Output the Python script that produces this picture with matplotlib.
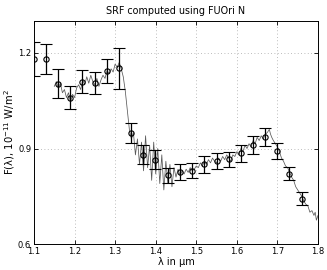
import matplotlib
matplotlib.use("Agg")
import matplotlib.pyplot as plt

# binned SRF points
bin_wl = [1.100, 1.129, 1.160, 1.189, 1.219, 1.250, 1.279, 1.309, 1.339, 1.369,
          1.399, 1.430, 1.460, 1.489, 1.519, 1.550, 1.580, 1.609, 1.639, 1.669,
          1.700, 1.729, 1.760]
bin_flux = [1.181, 1.181, 1.104, 1.060, 1.110, 1.105, 1.143, 1.152, 0.949, 0.881,
            0.865, 0.816, 0.827, 0.830, 0.850, 0.861, 0.866, 0.885, 0.911, 0.937,
            0.893, 0.821, 0.743]
bin_err = [0.053, 0.046, 0.044, 0.037, 0.036, 0.035, 0.038, 0.065, 0.032, 0.030,
           0.029, 0.023, 0.025, 0.023, 0.027, 0.026, 0.024, 0.027, 0.027, 0.028,
           0.025, 0.021, 0.020]

# spectrum trace
spec_wl = [1.150, 1.155, 1.160, 1.165, 1.170, 1.175, 1.180, 1.185, 1.190, 1.195,
           1.200, 1.205, 1.210, 1.215, 1.220, 1.225, 1.230, 1.235, 1.240, 1.245,
           1.250, 1.255, 1.260, 1.265, 1.270, 1.275, 1.280, 1.285, 1.290, 1.295,
           1.300, 1.305, 1.310, 1.315, 1.320, 1.325, 1.330, 1.335, 1.340, 1.345,
           1.350, 1.355, 1.360, 1.365, 1.370, 1.375, 1.380, 1.385, 1.390, 1.395,
           1.400, 1.405, 1.410, 1.415, 1.420, 1.425, 1.430, 1.435, 1.440, 1.445,
           1.450, 1.455, 1.460, 1.465, 1.470, 1.475, 1.480, 1.485, 1.490, 1.495,
           1.500, 1.505, 1.510, 1.515, 1.520, 1.525, 1.530, 1.535, 1.540, 1.545,
           1.550, 1.555, 1.560, 1.565, 1.570, 1.575, 1.580, 1.585, 1.590, 1.595,
           1.600, 1.605, 1.610, 1.615, 1.620, 1.625, 1.630, 1.635, 1.640, 1.645,
           1.650, 1.655, 1.660, 1.665, 1.670, 1.675, 1.680, 1.683, 1.686, 1.690,
           1.695, 1.700, 1.705, 1.710, 1.715, 1.720, 1.725, 1.730, 1.735, 1.740,
           1.745, 1.750, 1.755, 1.760, 1.765, 1.770, 1.775, 1.780, 1.785, 1.790,
           1.793, 1.796, 1.800]
spec_flux = [1.095, 1.110, 1.090, 1.105, 1.075, 1.085, 1.060, 1.075, 1.045, 1.070,
             1.060, 1.090, 1.100, 1.085, 1.115, 1.100, 1.125, 1.105, 1.130, 1.110,
             1.100, 1.120, 1.095, 1.115, 1.130, 1.120, 1.145, 1.135, 1.150, 1.140,
             1.165, 1.155, 1.170, 1.150, 1.125, 1.080, 1.020, 0.960, 0.930, 0.950,
             0.880, 0.930, 0.850, 0.920, 0.830, 0.940, 0.840, 0.910, 0.800, 0.920,
             0.820, 0.900, 0.790, 0.880, 0.770, 0.860, 0.790, 0.850, 0.780, 0.840,
             0.810, 0.835, 0.815, 0.830, 0.820, 0.835, 0.825, 0.840, 0.830, 0.835,
             0.845, 0.840, 0.855, 0.845, 0.860, 0.850, 0.865, 0.855, 0.870, 0.860,
             0.855, 0.870, 0.860, 0.875, 0.865, 0.880, 0.870, 0.860, 0.880, 0.875,
             0.890, 0.880, 0.900, 0.890, 0.910, 0.900, 0.915, 0.905, 0.925, 0.915,
             0.935, 0.925, 0.940, 0.930, 0.945, 0.950, 0.960, 0.945, 0.935, 0.925,
             0.915, 0.905, 0.890, 0.870, 0.860, 0.845, 0.840, 0.825, 0.810, 0.800,
             0.780, 0.770, 0.760, 0.750, 0.735, 0.725, 0.720, 0.700, 0.705, 0.690,
             0.700, 0.675, 0.690]

x_ticks = [1.1, 1.2, 1.3, 1.4, 1.5, 1.6, 1.7, 1.8]
y_ticks = [0.6, 0.9, 1.2]

plt.rcParams['font.family'] = ['DejaVu Sans']
fig = plt.figure(figsize=(3.27, 2.70), dpi=100)
ax = fig.add_axes([0.104, 0.096, 0.8685, 0.826])

ax.plot(spec_wl, spec_flux, color='0.35', lw=0.55, zorder=2)
ax.errorbar(bin_wl, bin_flux, yerr=bin_err, fmt='o', mfc='none', mec='black',
            ms=3.8, mew=0.8, ecolor='black', elinewidth=0.9, capsize=4.5,
            capthick=1.0, color='black', zorder=3)

ax.set_xlim(1.1, 1.8)
ax.set_ylim(0.6, 1.3)
ax.set_xticks(x_ticks)
ax.set_xticklabels([f"{v:.1f}" for v in x_ticks])
ax.set_yticks(y_ticks)
ax.set_yticklabels([f"{v:.1f}" for v in y_ticks])
ax.tick_params(direction='in', length=3, width=0.6, labelsize=6, pad=2,
               top=True, right=True)
ax.grid(True, linestyle=(0, (1, 3)), color='0.65', linewidth=0.6)
for s in ax.spines.values():
    s.set_linewidth(0.7)

ax.set_title('SRF computed using FUOri N', fontsize=6.9, pad=5)
ax.set_xlabel('λ in μm', fontsize=7, labelpad=1)
ax.set_ylabel('F(λ), 10$^{-11}$ W/m$^2$', fontsize=7.2, labelpad=1)

fig.savefig('out.png', dpi=100)
